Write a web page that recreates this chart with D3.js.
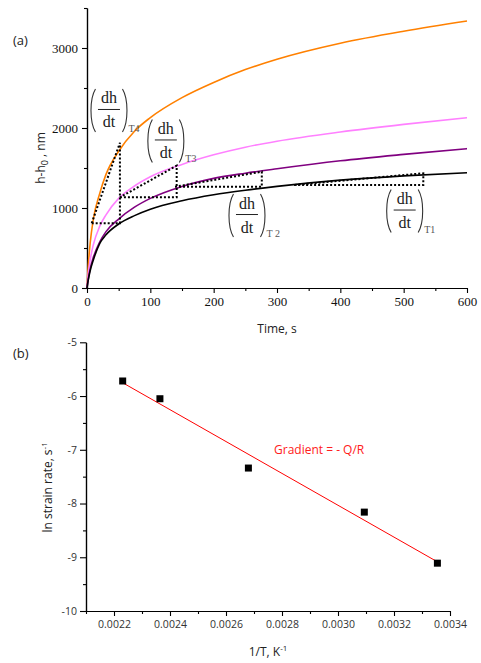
<!DOCTYPE html>
<html>
<head>
<meta charset="utf-8">
<script src="https://cdn.jsdelivr.net/npm/d3@7"></script>
<style>
  body { margin: 0; background: #fff; }
  svg { display: block; }
</style>
</head>
<body>
<div id="chart"></div>
<script>
// ---- data ----
// (a) indentation depth vs time at four temperatures
const timeS = [0, 1, 2, 5, 10, 20, 30, 50, 75, 100, 150, 200, 250, 300, 400, 500, 600];
const depthT4 = [0, 150, 280, 560, 860, 1180, 1420, 1710, 1960, 2130, 2380, 2570, 2730, 2860, 3060, 3210, 3337];
const depthT3 = [0, 100, 180, 350, 540, 770, 915, 1120, 1275, 1390, 1545, 1665, 1760, 1835, 1950, 2045, 2129];
const depthT2 = [0, 62, 114, 239, 383, 575, 705, 862, 1010, 1120, 1270, 1370, 1435, 1490, 1590, 1670, 1742];
const depthT1 = [0, 55, 100, 215, 350, 555, 665, 800, 905, 985, 1090, 1165, 1222, 1270, 1348, 1402, 1441];
const seriesColors = ["#ff8000", "#ff80ff", "#800080", "#000000"];

// tangent triangles: [t, h] corners
const tangentT4 = [[7.4, 809], [52, 809], [52, 1816], [7.4, 809]];
const tangentT3 = [[52, 1134], [141.6, 1134], [141.6, 1529], [52, 1134]];
const tangentT2 = [[139, 1266], [276, 1266], [276, 1454], [139, 1266]];
const tangentT1 = [[327, 1288], [531, 1288], [531, 1434], [327, 1288]];
// label centres [t, h] and subscripts
const labelPos = [[34.7, 2219], [124.5, 1838], [252.6, 906], [501.6, 962]];
const labelSubs = ["T4", "T3", "T 2", "T1"];

const depthTicks = [0, 1000, 2000, 3000];
const timeTicks = [0, 100, 200, 300, 400, 500, 600];

// (b) Arrhenius plot
const invTemp = [0.002231, 0.002364, 0.002680, 0.003094, 0.003355];
const lnRate = [-5.72, -6.05, -7.34, -8.16, -9.11];
const rateTicks = [-5, -6, -7, -8, -9, -10];
const invTempTicks = [22, 24, 26, 28, 30, 32, 34].map(v => v / 10000);

const W = 481, H = 663;
const svg = d3.select("#chart").append("svg")
	.attr("width", W)
	.attr("height", H);

const serif = "Liberation Serif, Times New Roman, serif";
const sans = "Open Sans, Noto Sans, sans-serif";

// ================= (a) =================
const x = d3.scaleLinear().domain([0, 600]).range([87, 467]);
const y = d3.scaleLinear().domain([0, 3500]).range([288, 8]);

function styleAxis(g, font, size, color) {
	g.attr("font-family", font).attr("font-size", size);
	g.select(".domain").attr("stroke", "#000").attr("stroke-width", 1.2);
	g.selectAll(".tick line").attr("stroke", "#000").attr("stroke-width", 1.1);
	g.selectAll(".tick text")
		.attr("font-family", font)
		.attr("font-size", size)
		.attr("fill", color);
}

// minor ticks
svg.append("g")
	.attr("transform", `translate(0,${y(0)})`)
	.call(d3.axisBottom(x).tickValues(d3.range(50, 600, 100)).tickSize(3).tickFormat("").tickSizeOuter(0))
	.call(g => styleAxis(g, serif, 13, "#111"));
svg.append("g")
	.attr("transform", `translate(${x(0)},0)`)
	.call(d3.axisLeft(y).tickValues(d3.range(500, 3501, 1000)).tickSize(3).tickFormat("").tickSizeOuter(0))
	.call(g => styleAxis(g, serif, 13, "#111"));

svg.append("g")
	.attr("transform", `translate(0,${y(0)})`)
	.call(d3.axisBottom(x).tickValues(timeTicks).tickSize(5).tickPadding(4)
		.tickFormat(d => String(d)).tickSizeOuter(0))
	.call(g => styleAxis(g, serif, 13, "#111"));

svg.append("g")
	.attr("transform", `translate(${x(0)},0)`)
	.call(d3.axisLeft(y).tickValues(depthTicks).tickSize(5).tickPadding(4)
		.tickFormat(d => String(d)).tickSizeOuter(0))
	.call(g => styleAxis(g, serif, 13, "#111"));

// curves
const curveLine = d3.line()
	.x(d => x(d[0]))
	.y(d => y(d[1]))
	.curve(d3.curveMonotoneX);

[depthT4, depthT3, depthT2, depthT1].forEach((s, i) => {
	svg.append("path")
		.datum(timeS.map((t, j) => [t, s[j]]))
		.attr("fill", "none")
		.attr("stroke", seriesColors[i])
		.attr("stroke-width", 1.6)
		.attr("d", curveLine);
});

// dotted tangent triangles
const triLine = d3.line().x(d => x(d[0])).y(d => y(d[1]));
[tangentT4, tangentT3, tangentT2, tangentT1].forEach(tri => {
	svg.append("path")
		.attr("d", triLine(tri))
		.attr("fill", "none")
		.attr("stroke", "#000")
		.attr("stroke-width", 2)
		.attr("stroke-dasharray", "2,2");
});

// (dh/dt)_T labels
function drawRate(cx, cy, sub) {
	const g = svg.append("g").attr("transform", `translate(${cx},${cy})`);
	const hw = 18.5, hh = 21.5;
	g.append("path")
		.attr("d", `M${-hw + 5},${-hh} C${-hw - 1},${-hh + 10} ${-hw - 1},${hh - 10} ${-hw + 5},${hh}`)
		.attr("fill", "none").attr("stroke", "#333").attr("stroke-width", 1.1);
	g.append("path")
		.attr("d", `M${hw - 5},${-hh} C${hw + 1},${-hh + 10} ${hw + 1},${hh - 10} ${hw - 5},${hh}`)
		.attr("fill", "none").attr("stroke", "#333").attr("stroke-width", 1.1);
	g.append("text").attr("x", 0).attr("y", -7).attr("text-anchor", "middle")
		.attr("font-family", serif).attr("font-size", 16).attr("fill", "#222").text("dh");
	g.append("line").attr("x1", -11).attr("x2", 11).attr("y1", -1).attr("y2", -1)
		.attr("stroke", "#222").attr("stroke-width", 1);
	g.append("text").attr("x", 0).attr("y", 17).attr("text-anchor", "middle")
		.attr("font-family", serif).attr("font-size", 16).attr("fill", "#222").text("dt");
	g.append("text").attr("x", hw + 1).attr("y", hh).attr("font-family", serif)
		.attr("font-size", 10).attr("fill", "#555").text(sub);
}
labelPos.forEach((p, i) => drawRate(x(p[0]), y(p[1]), labelSubs[i]));

// axis titles (a)
svg.append("text")
	.attr("x", x(300)).attr("y", 333)
	.attr("text-anchor", "middle")
	.attr("font-family", sans).attr("font-size", 12).attr("fill", "#222")
	.text("Time, s");

const yTitleA = svg.append("text")
	.attr("transform", "translate(45,158) rotate(-90)")
	.attr("text-anchor", "middle")
	.attr("font-family", sans).attr("font-size", 12).attr("fill", "#222");
yTitleA.append("tspan").text("h-h");
yTitleA.append("tspan").attr("dy", 3).attr("font-size", 9).text("0");
yTitleA.append("tspan").attr("dy", -3).text(" , nm");

svg.append("text")
	.attr("x", 13).attr("y", 45)
	.attr("font-family", sans).attr("font-size", 13).attr("fill", "#222")
	.text("(a)");

// ================= (b) =================
const xb = d3.scaleLinear().domain([0.0021, 0.0034]).range([86, 450]);
const yb = d3.scaleLinear().domain([-10, -5]).range([611, 342.3]);

svg.append("g")
	.attr("transform", `translate(0,${yb(-10)})`)
	.call(d3.axisBottom(xb).tickValues(d3.range(21, 34, 2).map(v => v / 10000)).tickSize(3).tickFormat("").tickSizeOuter(0))
	.call(g => styleAxis(g, sans, 11, "#333"));
svg.append("g")
	.attr("transform", `translate(${xb(0.0021)},0)`)
	.call(d3.axisLeft(yb).tickValues(d3.range(-9.5, -5, 1)).tickSize(3).tickFormat("").tickSizeOuter(0))
	.call(g => styleAxis(g, sans, 11, "#333"));

svg.append("g")
	.attr("transform", `translate(0,${yb(-10)})`)
	.call(d3.axisBottom(xb).tickValues(invTempTicks).tickSize(5).tickPadding(5)
		.tickFormat(d3.format(".4f")).tickSizeOuter(0))
	.call(g => styleAxis(g, sans, 10.5, "#333"));

svg.append("g")
	.attr("transform", `translate(${xb(0.0021)},0)`)
	.call(d3.axisLeft(yb).tickValues(rateTicks).tickSize(6).tickPadding(3)
		.tickFormat(d => String(d)).tickSizeOuter(0))
	.call(g => styleAxis(g, sans, 10.5, "#333"));

// least-squares fit through the points
const mx = d3.mean(invTemp), my = d3.mean(lnRate);
const sxy = d3.sum(invTemp, (v, i) => (v - mx) * (lnRate[i] - my));
const sxx = d3.sum(invTemp, v => (v - mx) * (v - mx));
const slope = sxy / sxx, intercept = my - slope * mx;
const xExt = d3.extent(invTemp);
svg.append("line")
	.attr("x1", xb(xExt[0])).attr("y1", yb(intercept + slope * xExt[0]))
	.attr("x2", xb(xExt[1])).attr("y2", yb(intercept + slope * xExt[1]))
	.attr("stroke", "#ff0000").attr("stroke-width", 1);

svg.append("g").selectAll("rect")
	.data(invTemp.map((v, i) => [v, lnRate[i]]))
	.join("rect")
	.attr("x", d => xb(d[0]) - 3.5)
	.attr("y", d => yb(d[1]) - 3.5)
	.attr("width", 7).attr("height", 7)
	.attr("fill", "#000");

svg.append("text")
	.attr("x", 274).attr("y", 454)
	.attr("font-family", sans).attr("font-size", 12).attr("fill", "#ff2020")
	.text("Gradient = - Q/R");

const xTitleB = svg.append("text")
	.attr("x", xb(0.00275)).attr("y", 656)
	.attr("text-anchor", "middle")
	.attr("font-family", sans).attr("font-size", 12).attr("fill", "#222");
xTitleB.append("tspan").text("1/T, K");
xTitleB.append("tspan").attr("dy", -5).attr("font-size", 8).text("-1");

const yTitleB = svg.append("text")
	.attr("transform", `translate(52,${yb(-7.7)}) rotate(-90)`)
	.attr("text-anchor", "middle")
	.attr("font-family", sans).attr("font-size", 12).attr("fill", "#222");
yTitleB.append("tspan").text("ln strain rate, s");
yTitleB.append("tspan").attr("dy", -5).attr("font-size", 8).text("-1");

svg.append("text")
	.attr("x", 13).attr("y", 358)
	.attr("font-family", sans).attr("font-size", 13).attr("fill", "#222")
	.text("(b)");
</script>
</body>
</html>
